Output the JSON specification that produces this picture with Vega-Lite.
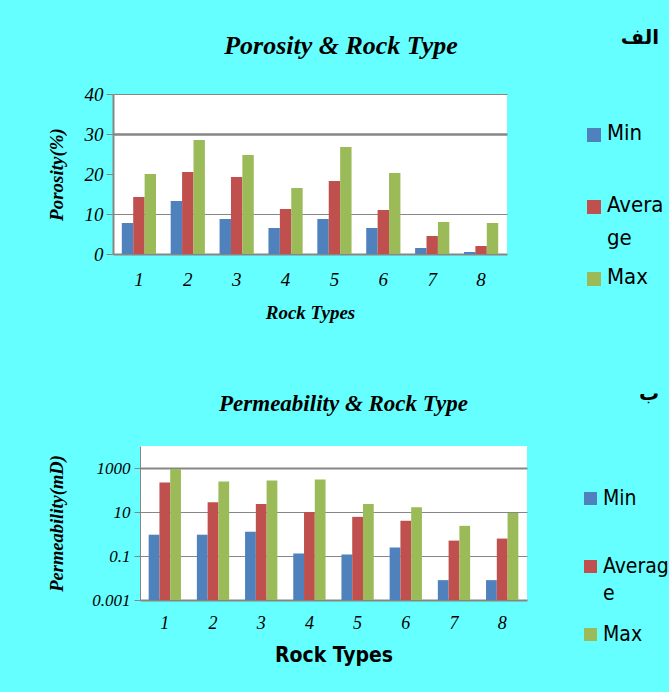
{
  "$schema": "https://vega.github.io/schema/vega-lite/v6.json",
  "background": "#66FFFF",
  "padding": {"left": 46, "top": 28, "right": 0, "bottom": 27},
  "spacing": 62,
  "resolve": {"scale": {"x": "independent", "xOffset": "independent", "color": "independent", "y": "independent"}, "legend": {"color": "independent"}},
  "datasets": {
    "porosity": [
      {"rock": "1", "series": "Min", "value": 7.75}, {"rock": "1", "series": "Average", "value": 14.25}, {"rock": "1", "series": "Max", "value": 20},
      {"rock": "2", "series": "Min", "value": 13.25}, {"rock": "2", "series": "Average", "value": 20.5}, {"rock": "2", "series": "Max", "value": 28.5},
      {"rock": "3", "series": "Min", "value": 8.75}, {"rock": "3", "series": "Average", "value": 19.25}, {"rock": "3", "series": "Max", "value": 24.75},
      {"rock": "4", "series": "Min", "value": 6.5}, {"rock": "4", "series": "Average", "value": 11.25}, {"rock": "4", "series": "Max", "value": 16.5},
      {"rock": "5", "series": "Min", "value": 8.75}, {"rock": "5", "series": "Average", "value": 18.25}, {"rock": "5", "series": "Max", "value": 26.75},
      {"rock": "6", "series": "Min", "value": 6.5}, {"rock": "6", "series": "Average", "value": 11}, {"rock": "6", "series": "Max", "value": 20.25},
      {"rock": "7", "series": "Min", "value": 1.5}, {"rock": "7", "series": "Average", "value": 4.5}, {"rock": "7", "series": "Max", "value": 8},
      {"rock": "8", "series": "Min", "value": 0.5}, {"rock": "8", "series": "Average", "value": 2}, {"rock": "8", "series": "Max", "value": 7.75}
    ],
    "permeability": [
      {"rock": "1", "series": "Min", "value": 0.93}, {"rock": "1", "series": "Average", "value": 220}, {"rock": "1", "series": "Max", "value": 900},
      {"rock": "2", "series": "Min", "value": 0.93}, {"rock": "2", "series": "Average", "value": 28}, {"rock": "2", "series": "Max", "value": 245},
      {"rock": "3", "series": "Min", "value": 1.27}, {"rock": "3", "series": "Average", "value": 23}, {"rock": "3", "series": "Max", "value": 270},
      {"rock": "4", "series": "Min", "value": 0.13}, {"rock": "4", "series": "Average", "value": 10}, {"rock": "4", "series": "Max", "value": 300},
      {"rock": "5", "series": "Min", "value": 0.117}, {"rock": "5", "series": "Average", "value": 6}, {"rock": "5", "series": "Max", "value": 23},
      {"rock": "6", "series": "Min", "value": 0.245}, {"rock": "6", "series": "Average", "value": 4}, {"rock": "6", "series": "Max", "value": 16.6},
      {"rock": "7", "series": "Min", "value": 0.008}, {"rock": "7", "series": "Average", "value": 0.5}, {"rock": "7", "series": "Max", "value": 2.35},
      {"rock": "8", "series": "Min", "value": 0.008}, {"rock": "8", "series": "Average", "value": 0.62}, {"rock": "8", "series": "Max", "value": 9.1}
    ],
    "empty": []
  },
  "config": {
    "view": {"fill": "white", "stroke": null},
    "axis": {"domainColor": "#868686", "gridColor": "#868686", "tickColor": "#868686", "labelColor": "black", "titleColor": "black"}
  },
  "vconcat": [
    {"spacing": 0, "hconcat": [
    {"width": 1, "height": 1, "data": {"name": "empty"}, "mark": "point", "view": {"fill": null, "stroke": null}},
    {
      "width": 394,
      "height": 160,
      "data": {"name": "porosity"},
      "title": {"text": "Porosity & Rock Type", "font": "Liberation Serif", "fontSize": 26, "fontStyle": "italic", "fontWeight": "bold", "color": "black", "frame": "group", "anchor": "middle", "offset": 26, "dx": 31},
      "mark": {"type": "bar"},
      "encoding": {
        "x": {
          "field": "rock", "type": "nominal", "sort": null,
          "scale": {"paddingInner": 0.3, "paddingOuter": 0.18},
          "axis": {"title": "Rock Types", "labelAngle": 0, "ticks": false, "labelPadding": 16, "labelFont": "Liberation Serif", "labelFontStyle": "italic", "labelFontSize": 19, "titleFont": "Liberation Serif", "titleFontStyle": "italic", "titleFontWeight": "bold", "titleFontSize": 19, "titlePadding": 14, "domainWidth": 2}
        },
        "xOffset": {"field": "series", "type": "nominal", "sort": ["Min", "Average", "Max"], "scale": {"paddingInner": 0, "paddingOuter": 0}},
        "y": {
          "field": "value", "type": "quantitative",
          "scale": {"domain": [0, 40], "nice": false},
          "axis": {"title": "Porosity(%)", "values": [0, 10, 20, 30, 40], "tickSize": 7, "labelPadding": 3, "labelFont": "Liberation Serif", "labelFontStyle": "italic", "labelFontSize": 19, "titleFont": "Liberation Serif", "titleFontStyle": "italic", "titleFontWeight": "bold", "titleFontSize": 19, "titlePadding": 18, "domainWidth": 2,
            "gridOpacity": {"condition": {"test": "datum.value === 20 || datum.value === 0", "value": 0}, "value": 1},
            "gridWidth": {"condition": {"test": "datum.value === 30", "value": 2.5}, "value": 1.2}}
        },
        "color": {
          "field": "series", "type": "nominal",
          "scale": {"domain": ["Min", "Average", "Max"], "range": ["#4F81BD", "#C0504D", "#9BBB59"]},
          "legend": {"orient": "none", "legendX": 537, "legendY": -66, "title": "الف", "titleFont": "DejaVu Sans", "titleFontSize": 20, "titleFontWeight": "bold", "titleColor": "black", "titleAnchor": "end", "titlePadding": 76,
            "symbolType": "square", "symbolSize": 196, "symbolStrokeWidth": 0, "symbolOffset": 0,
            "labelFont": "Liberation Sans Narrow, DejaVu Sans Condensed, Open Sans", "labelFontSize": 22, "labelColor": "black", "labelBaseline": "top", "labelLimit": 0, "labelOffset": 2,
            "rowPadding": 17, "gridAlign": "all",
            "labelExpr": "datum.label == 'Average' ? ['Avera', 'ge'] : datum.label",
            "encode": {"labels": {"update": {"dy": {"value": -12}, "lineHeight": {"value": 33}}}, "title": {"update": {"dx": {"value": -4}}}}}
        }
      }
    }]},
    {"spacing": 0, "hconcat": [
    {"width": 1, "height": 1, "data": {"name": "empty"}, "mark": "point", "view": {"fill": null, "stroke": null}},
    {
      "width": 387,
      "height": 154,
      "data": {"name": "permeability"},
      "title": {"text": "Permeability & Rock Type", "font": "Liberation Serif", "fontSize": 23, "fontStyle": "italic", "fontWeight": "bold", "color": "black", "frame": "group", "anchor": "middle", "offset": 30, "dx": 10},
      "mark": {"type": "bar"},
      "encoding": {
        "x": {
          "field": "rock", "type": "nominal", "sort": null,
          "scale": {"paddingInner": 0.33, "paddingOuter": 0.18},
          "axis": {"title": "Rock Types", "labelAngle": 0, "ticks": false, "labelPadding": 14, "labelFont": "Liberation Serif", "labelFontStyle": "italic", "labelFontSize": 18, "titleFont": "Liberation Sans Narrow, DejaVu Sans Condensed, Open Sans", "titleFontWeight": "bold", "titleFontSize": 21, "titlePadding": 12, "domainWidth": 2}
        },
        "xOffset": {"field": "series", "type": "nominal", "sort": ["Min", "Average", "Max"], "scale": {"paddingInner": 0, "paddingOuter": 0}},
        "y": {
          "field": "value", "type": "quantitative",
          "scale": {"type": "log", "domain": [0.001, 10000], "nice": false},
          "axis": {"title": "Permeability(mD)", "values": [0.001, 0.1, 10, 1000], "format": "~g", "tickSize": 6, "labelPadding": 4, "labelFont": "Liberation Serif", "labelFontStyle": "italic", "labelFontSize": 17, "titleFont": "Liberation Serif", "titleFontStyle": "italic", "titleFontWeight": "bold", "titleFontSize": 18.5, "titlePadding": 25, "domainWidth": 1,
            "gridOpacity": {"condition": {"test": "datum.value === 0.001", "value": 0}, "value": 1},
            "gridWidth": {"condition": {"test": "datum.value === 1000", "value": 2}, "value": 1.2}}
        },
        "y2": {"datum": 0.001},
        "color": {
          "field": "series", "type": "nominal",
          "scale": {"domain": ["Min", "Average", "Max"], "range": ["#4F81BD", "#C0504D", "#9BBB59"]},
          "legend": {"orient": "none", "legendX": 534, "legendY": -62, "title": "ب", "titleFont": "DejaVu Sans", "titleFontSize": 20, "titleFontWeight": "bold", "titleColor": "black", "titleAnchor": "end", "titlePadding": 84,
            "symbolType": "square", "symbolSize": 169, "symbolStrokeWidth": 0, "symbolOffset": 0,
            "labelFont": "Liberation Sans Narrow, DejaVu Sans Condensed, Open Sans", "labelFontSize": 21, "labelColor": "black", "labelBaseline": "top", "labelLimit": 0, "labelOffset": 2,
            "rowPadding": 19, "gridAlign": "all",
            "labelExpr": "datum.label == 'Average' ? ['Averag', 'e'] : datum.label",
            "encode": {"labels": {"update": {"dy": {"value": -11}, "lineHeight": {"value": 27}}}, "title": {"update": {"dx": {"value": -10}}}}}
        }
      }
    }]}
  ]
}
